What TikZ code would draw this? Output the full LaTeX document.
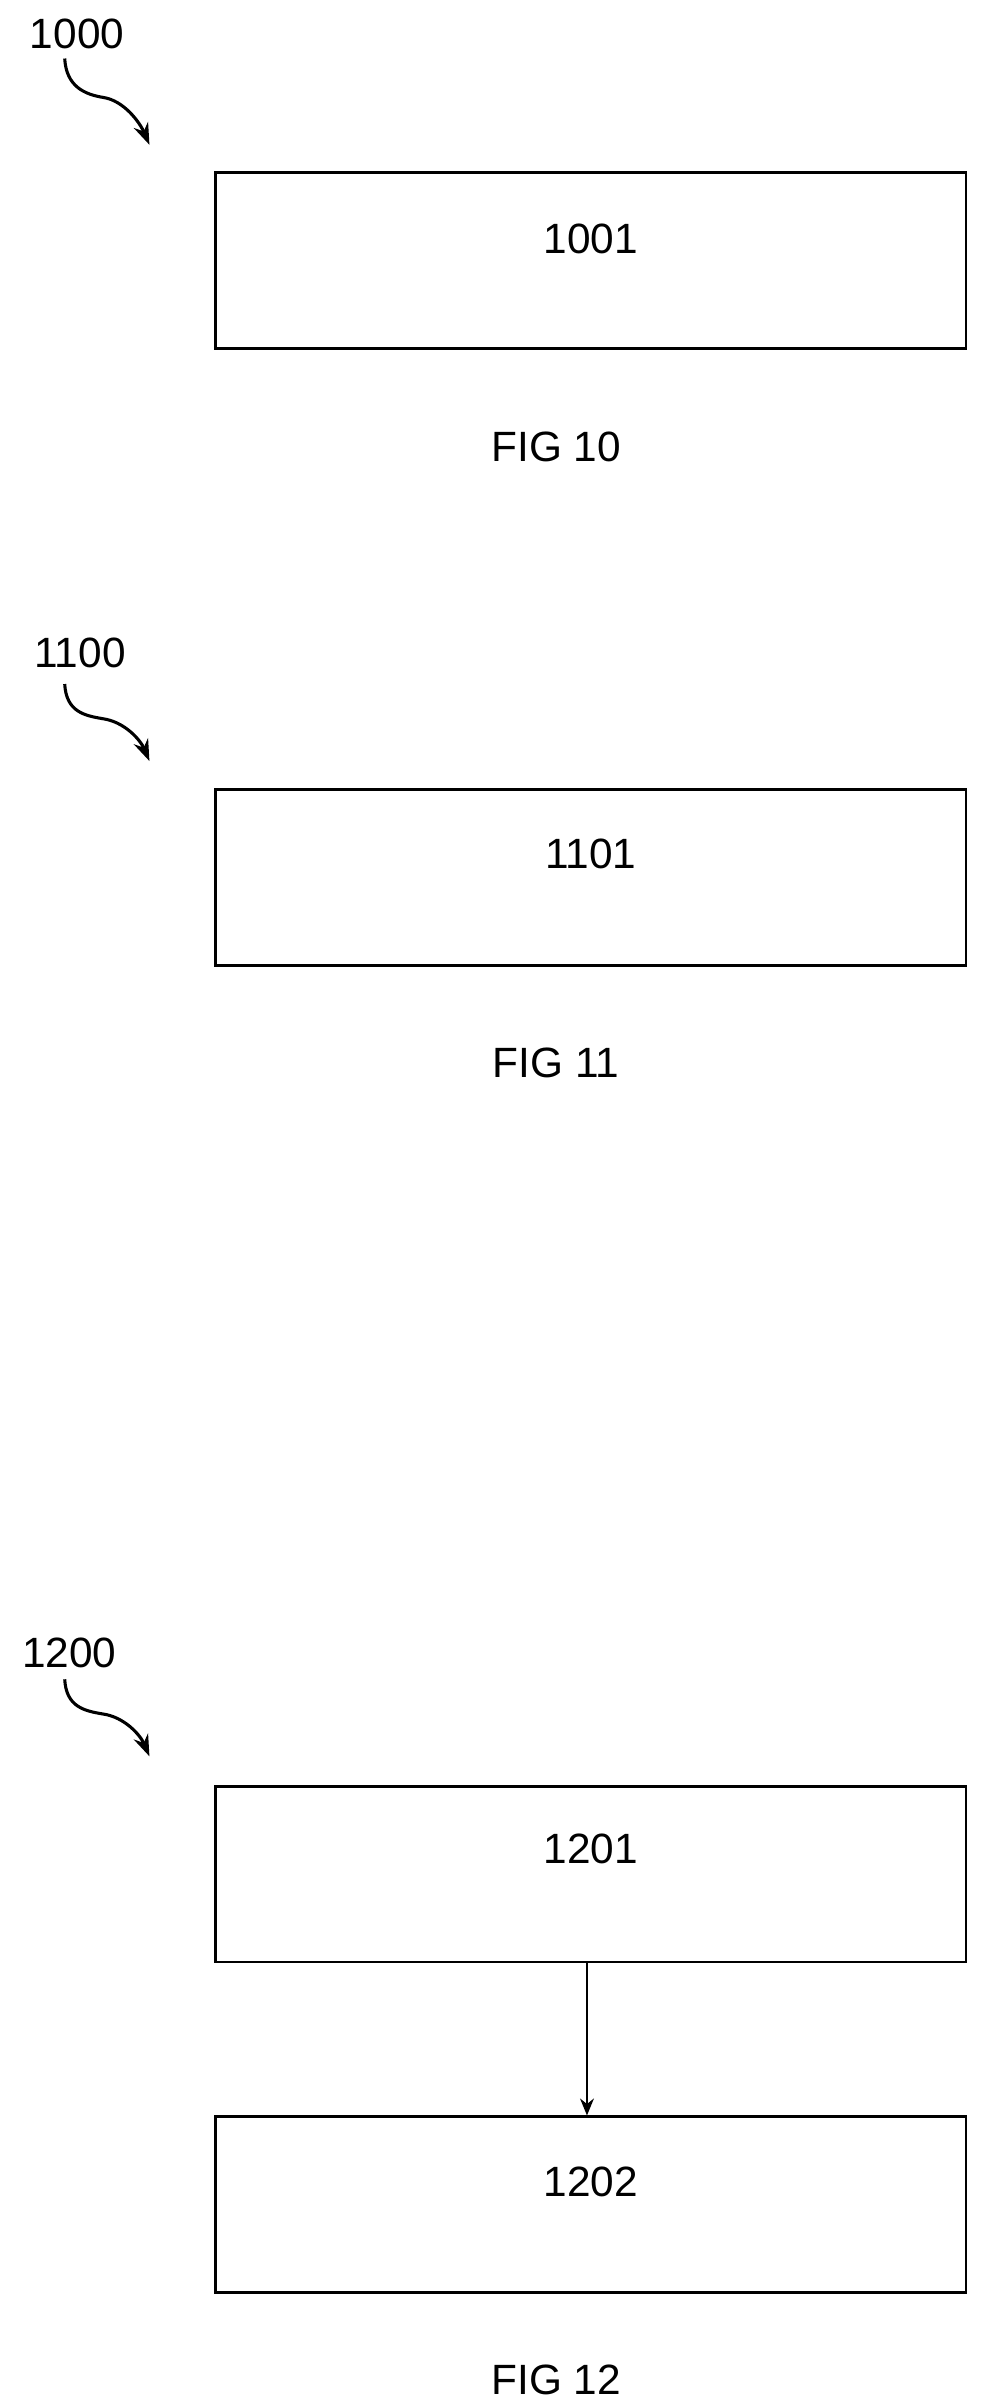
\documentclass[tikz,border=0pt]{standalone}
\usepackage{fontspec}
\setmainfont{Liberation Sans}
\usetikzlibrary{arrows.meta, positioning, calc}

\begin{document}
\begin{tikzpicture}[x=1pt,y=-1pt,>={Stealth[length=14pt,width=10pt]},
  block/.style={draw, line width=1.8pt, minimum width=487pt, minimum height=114pt, inner sep=0pt},
  lbl/.style={font=\fontsize{27.5}{30}\selectfont},
  squig/.style={->, line width=2pt}]

\useasboundingbox (0,0) rectangle (640,1563);

% figure 10
  \node[lbl] (n1000) at (50,22) {1000};
  \node[block] (b1001) at (383.5,169) {};
  \node[lbl] (t1001) at (383.5,155) {1001};
  \node[lbl] (f10) at (361,290) {FIG 10};
  \coordinate (s1000) at (42,38);
  \coordinate (e1000) at (97,94);

% figure 11
  \node[lbl] (n1100) at (52,424) {1100};
  \node[block] (b1101) at (383.5,569.5) {};
  \node[lbl] (t1101) at (383.5,554) {1101};
  \node[lbl] (f11) at (361,690) {FIG 11};
  \coordinate (s1100) at (42,444);
  \coordinate (e1100) at (97,494);

% figure 12
  \node[lbl] (n1200) at (45,1073) {1200};
  \node[block] (b1201) at (383.5,1216.5) {};
  \node[lbl] (t1201) at (383.5,1200) {1201};
  \node[block] (b1202) at (383.5,1431) {};
  \node[lbl] (t1202) at (383.5,1416) {1202};
  \node[lbl] (f12) at (361,1545) {FIG 12};
  \coordinate (s1200) at (42,1090);
  \coordinate (e1200) at (97,1140);

% the links
  \foreach \f in {1000,1100,1200}
    \draw[squig] (s\f) .. controls +(1,18) and +(-12,-2) .. ($(s\f)!0.45!(e\f)$)
      .. controls +(14,2) and +(-6,-14) .. (e\f);
  \draw[->, line width=1.2pt, >={Stealth[length=11pt,width=9pt]}] (b1201.south -| 381,0) -- (b1202.north -| 381,0);

\end{tikzpicture}
\end{document}
